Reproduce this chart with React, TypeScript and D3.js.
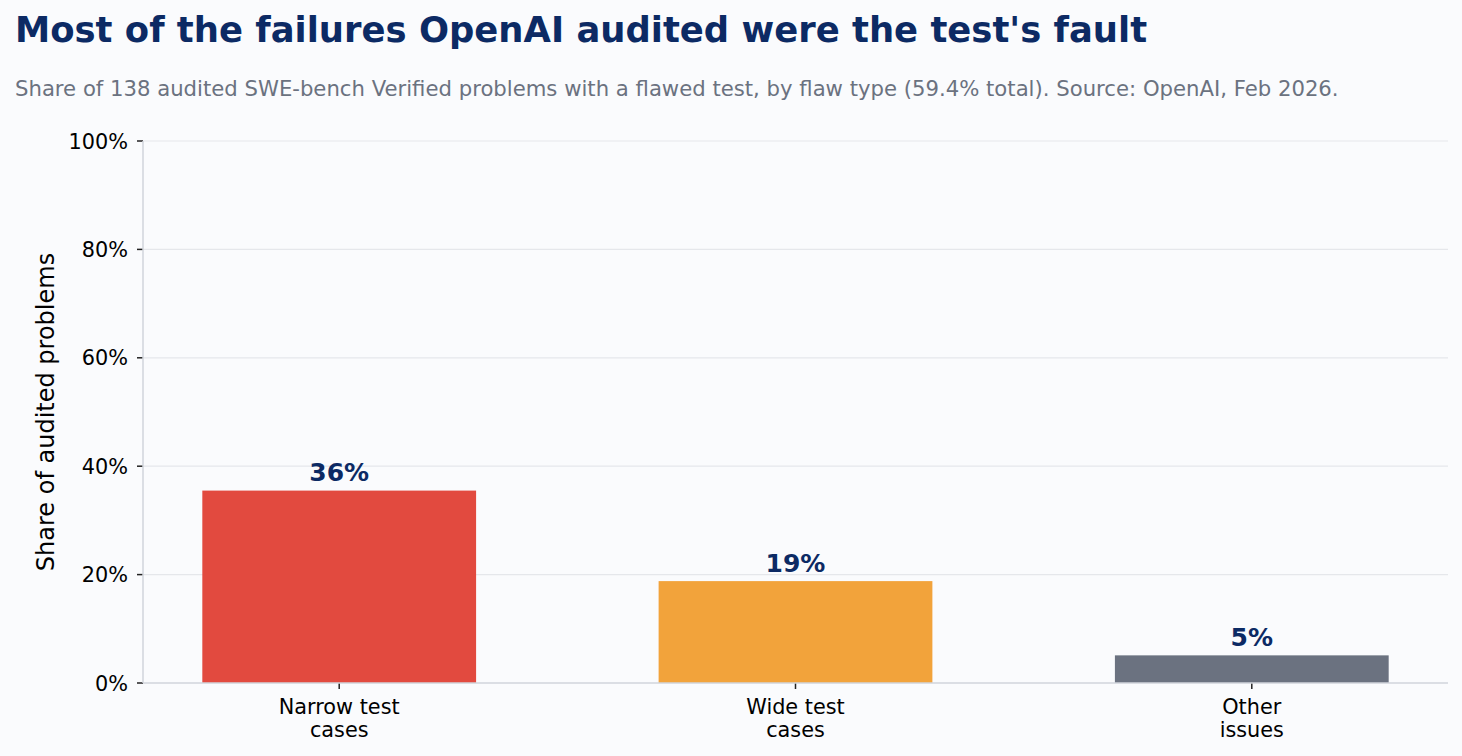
import React from "react";
import * as d3 from "d3";

const categories: string[][] = [["Narrow test", "cases"], ["Wide test", "cases"], ["Other", "issues"]];
const values: number[] = [35.5, 18.8, 5.1];
const barColors: string[] = ["#e24a3f", "#f2a33b", "#6b7280"];
const valueLabels: string[] = ["36%", "19%", "5%"];
const yTicks: number[] = [0, 20, 40, 60, 80, 100];

const W = 1462;
const H = 756;
const left = 143;
const right = 1448;
const top = 141;
const bottom = 683;
const FONT = "'DejaVu Sans', sans-serif";

export default function App() {
  const x = d3.scaleLinear().domain([-0.43, 2.43]).range([left, right]);
  const y = d3.scaleLinear().domain([0, 100]).range([bottom, top]);
  const bw = x(0.3) - x(0);

  return (
    <svg
      width={W}
      height={H}
      style={{ position: "absolute", left: 0, top: 0, background: "#fafbfd" }}
      fontFamily={FONT}
    >
      <rect x={0} y={0} width={W} height={H} fill="#fafbfd" />
      <text x={15} y={42} fontSize={35.4} fontWeight="bold" fill="#0c2a64">
        Most of the failures OpenAI audited were the test's fault
      </text>
      <text x={15} y={96} fontSize={21.2} fill="#6b7280">
        Share of 138 audited SWE-bench Verified problems with a flawed test, by flaw type (59.4% total). Source: OpenAI, Feb 2026.
      </text>

      {yTicks.map((t) => (
        <g key={t}>
          {t > 0 && (
            <line x1={left} x2={right} y1={y(t)} y2={y(t)} stroke="#e5e7eb" strokeWidth={1.2} />
          )}
          <line x1={left - 6} x2={left} y1={y(t)} y2={y(t)} stroke="#222" strokeWidth={1.5} />
          <text x={128} y={y(t)} dy="0.365em" textAnchor="end" fontSize={20.8} fill="#000">
            {t}%
          </text>
        </g>
      ))}

      {values.map((v, i) => (
        <g key={i}>
          <rect x={x(i) - bw} y={y(v)} width={bw * 2} height={y(0) - y(v)} fill={barColors[i]} />
          <text
            x={x(i)}
            y={y(v) - 9.5}
            textAnchor="middle"
            fontSize={25}
            fontWeight="bold"
            fill="#0c2a64"
          >
            {valueLabels[i]}
          </text>
          <line x1={x(i)} x2={x(i)} y1={bottom} y2={bottom + 6} stroke="#222" strokeWidth={1.5} />
          {categories[i].map((ln, j) => (
            <text key={j} x={x(i)} y={714 + j * 23} textAnchor="middle" fontSize={20.8} fill="#000">
              {ln}
            </text>
          ))}
        </g>
      ))}

      <line x1={left} x2={left} y1={top} y2={bottom} stroke="#d1d5db" strokeWidth={1.5} />
      <line x1={left} x2={right} y1={bottom} y2={bottom} stroke="#d1d5db" strokeWidth={1.5} />

      <text
        transform={`translate(53.5, ${(top + bottom) / 2}) rotate(-90)`}
        textAnchor="middle"
        fontSize={24}
        fill="#000"
      >
        Share of audited problems
      </text>
    </svg>
  );
}
